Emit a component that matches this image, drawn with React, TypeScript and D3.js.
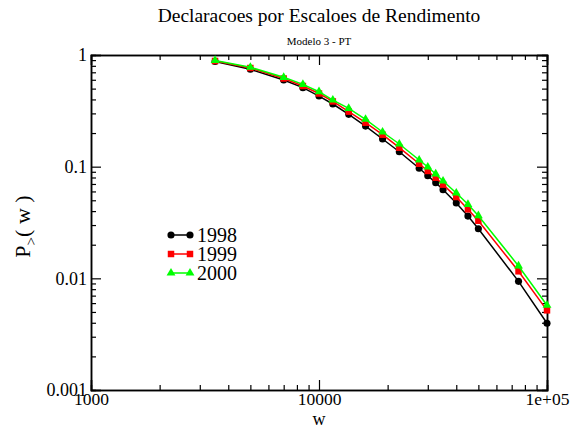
import React, { useEffect, useRef } from "react";
import * as d3 from "d3";

const incomes = [3500, 5000, 7000, 8500, 10000, 11500, 13500, 16000, 19000, 22500, 27500, 30000, 32500, 35000, 40000, 45000, 50000, 75000, 100000];
const p1998 = [0.875, 0.745, 0.597, 0.51, 0.429, 0.364, 0.294, 0.231, 0.177, 0.136, 0.0967, 0.083, 0.0719, 0.0622, 0.0473, 0.0361, 0.0278, 0.0094, 0.00396];
const p1999 = [0.884, 0.765, 0.616, 0.528, 0.452, 0.384, 0.311, 0.2475, 0.1933, 0.1479, 0.1063, 0.0915, 0.0796, 0.069, 0.0535, 0.0415, 0.0328, 0.01156, 0.00517];
const p2000 = [0.893, 0.776, 0.631, 0.546, 0.469, 0.395, 0.333, 0.2657, 0.2044, 0.1596, 0.1147, 0.0993, 0.086, 0.0744, 0.0581, 0.046, 0.0364, 0.0129, 0.00574];
const seriesNames = ["1998", "1999", "2000"];
const xTickLabels = ["1000", "10000", "1e+05"];
const yTickLabels = ["0.001", "0.01", "0.1", "1"];

export default function App() {
  const ref = useRef<SVGSVGElement>(null);
  useEffect(() => {
    const svg = d3.select(ref.current);
    svg.selectAll("*").remove();
    const W = 574, H = 428;
    const L = 91, R = 547, T = 55, B = 390;
    const font = "'Liberation Serif', 'DejaVu Serif', serif";
    const x = d3.scaleLog().domain([1000, 100000]).range([L, R]);
    const y = d3.scaleLog().domain([0.001, 1]).range([B, T]);

    svg.append("rect").attr("width", W).attr("height", H).attr("fill", "white");

    const xMajor = [1000, 10000, 100000];
    const yMajor = [0.001, 0.01, 0.1, 1];
    const minorX: number[] = [];
    [1000, 10000].forEach((d) => { for (let k = 2; k <= 9; k++) minorX.push(d * k); });
    const minorY: number[] = [];
    [0.001, 0.01, 0.1].forEach((d) => { for (let k = 2; k <= 9; k++) minorY.push(d * k); });

    const styleAxis = (g: any, fs = 18) => {
      g.select(".domain").attr("stroke", "black").attr("stroke-width", 1.5);
      g.selectAll(".tick line").attr("stroke", "black").attr("stroke-width", 1.2);
      g.selectAll("text").style("font-family", font).attr("font-size", fs).attr("fill", "black");
    };

    // bottom
    const gb = svg.append("g").attr("transform", `translate(0,${B})`);
    gb.call(d3.axisBottom(x).tickValues(xMajor).tickSize(-10).tickPadding(3)
      .tickFormat((d: any, i: number) => xTickLabels[i]) as any);
    styleAxis(gb, 17.5);
    const gbm = svg.append("g").attr("transform", `translate(0,${B})`);
    gbm.call(d3.axisBottom(x).tickValues(minorX).tickSize(-5).tickFormat(() => "") as any);
    styleAxis(gbm);

    // top
    const gt = svg.append("g").attr("transform", `translate(0,${T})`);
    gt.call(d3.axisTop(x).tickValues(xMajor).tickSize(-10).tickFormat(() => "") as any);
    styleAxis(gt);
    const gtm = svg.append("g").attr("transform", `translate(0,${T})`);
    gtm.call(d3.axisTop(x).tickValues(minorX).tickSize(-5).tickFormat(() => "") as any);
    styleAxis(gtm);

    // left
    const gl = svg.append("g").attr("transform", `translate(${L},0)`);
    gl.call(d3.axisLeft(y).tickValues(yMajor).tickSize(-10).tickPadding(4)
      .tickFormat((d: any, i: number) => yTickLabels[i]) as any);
    styleAxis(gl);
    const glm = svg.append("g").attr("transform", `translate(${L},0)`);
    glm.call(d3.axisLeft(y).tickValues(minorY).tickSize(-5).tickFormat(() => "") as any);
    styleAxis(glm);

    // right
    const gr = svg.append("g").attr("transform", `translate(${R},0)`);
    gr.call(d3.axisRight(y).tickValues(yMajor).tickSize(-10).tickFormat(() => "") as any);
    styleAxis(gr);
    const grm = svg.append("g").attr("transform", `translate(${R},0)`);
    grm.call(d3.axisRight(y).tickValues(minorY).tickSize(-5).tickFormat(() => "") as any);
    styleAxis(grm);

    const series = [
      { name: seriesNames[0], vals: p1998, color: "#000000", shape: "circle" },
      { name: seriesNames[1], vals: p1999, color: "#ff0000", shape: "square" },
      { name: seriesNames[2], vals: p2000, color: "#00ff00", shape: "triangle" },
    ];
    const symFor = (s: string) =>
      d3.symbol().type(s === "circle" ? d3.symbolCircle : s === "square" ? d3.symbolSquare : d3.symbolTriangle)
        .size(s === "circle" ? 40 : s === "square" ? 42 : 34);

    const line = d3.line<number>().x((d, i) => x(incomes[i])).y((d) => y(d));
    series.forEach((s) => {
      svg.append("path").attr("d", line(s.vals) as string).attr("fill", "none")
        .attr("stroke", s.color).attr("stroke-width", 1.5);
      svg.append("g").selectAll("path").data(s.vals).join("path")
        .attr("d", symFor(s.shape)() as string)
        .attr("transform", (d, i) => `translate(${x(incomes[i])},${y(d)})`)
        .attr("fill", s.color);
    });

    // legend
    const lx1 = 171, lx2 = 190, ly0 = 235, ldy = 19;
    series.forEach((s, i) => {
      const yy = ly0 + i * ldy;
      svg.append("line").attr("x1", lx1).attr("x2", lx2).attr("y1", yy).attr("y2", yy)
        .attr("stroke", s.color).attr("stroke-width", 1.5);
      [lx1, lx2].forEach((xx) => {
        svg.append("path").attr("d", symFor(s.shape)() as string)
          .attr("transform", `translate(${xx},${yy})`).attr("fill", s.color);
      });
      svg.append("text").attr("x", 197).attr("y", yy).attr("dy", "0.35em")
        .style("font-family", font).attr("font-size", 20).text(s.name);
    });

    // titles
    svg.append("text").attr("x", (L + R) / 2).attr("y", 22).attr("text-anchor", "middle")
      .style("font-family", font).attr("font-size", 19.5).text("Declaracoes por Escaloes de Rendimento");
    svg.append("text").attr("x", (L + R) / 2).attr("y", 45).attr("text-anchor", "middle")
      .style("font-family", font).attr("font-size", 11).text("Modelo 3 - PT");

    // axis labels
    svg.append("text").attr("x", (L + R) / 2).attr("y", 425).attr("text-anchor", "middle")
      .style("font-family", font).attr("font-size", 18).text("w");
    const yl = svg.append("text").attr("transform", `translate(30,${(T + B) / 2 + 4}) rotate(-90)`)
      .attr("text-anchor", "middle").style("font-family", font).attr("font-size", 22);
    yl.append("tspan").text("P");
    yl.append("tspan").attr("dy", 6).attr("font-size", 15).text(">");
    yl.append("tspan").attr("dy", -6).text("( w )");
  }, []);
  return <svg ref={ref} width={574} height={428} style={{ display: "block", position: "absolute", left: 0, top: 0 }} />;
}
